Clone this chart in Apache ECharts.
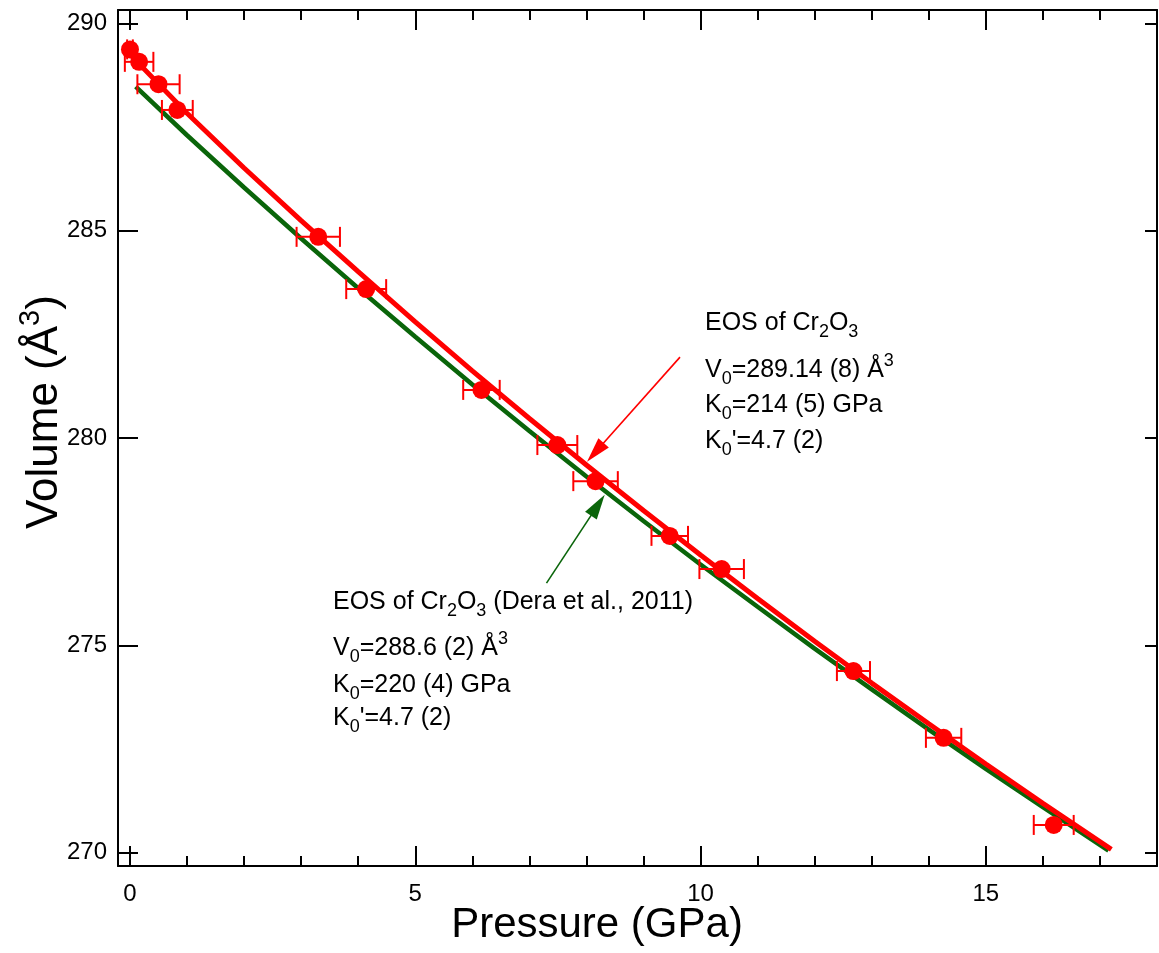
<!DOCTYPE html>
<html><head><meta charset="utf-8">
<script src="https://cdn.jsdelivr.net/npm/echarts@6/dist/echarts.min.js"></script>
<style>html,body{margin:0;padding:0;background:#fff}#c{width:1159px;height:953px}</style>
</head><body><div id="c"></div>
<script>
// ---- data ----
const pressure    = [0.00, 0.16, 0.50, 0.83, 3.30, 4.14, 6.16, 7.49, 8.16, 9.46, 10.37, 12.68, 14.26, 16.19];
const volume      = [289.37, 289.07, 288.53, 287.91, 284.85, 283.59, 281.16, 279.83, 278.96, 277.64, 276.84, 274.38, 272.77, 270.67];
const pressureErr = [0.05, 0.25, 0.37, 0.27, 0.38, 0.35, 0.32, 0.35, 0.39, 0.32, 0.39, 0.29, 0.31, 0.35];

const fitP   = [0, 1, 2, 3, 4, 5, 6, 7, 8, 9, 10, 11, 12, 13, 14, 15, 16, 17.2];
const fitV   = [289.25, 287.83, 286.51, 285.24, 284.01, 282.80, 281.62, 280.47, 279.35, 278.25, 277.18, 276.13, 275.10, 274.09, 273.11, 272.14, 271.19, 270.08];
const deraP  = [0.1, 1, 2, 3, 4, 5, 6, 7, 8, 9, 10, 11, 12, 13, 14, 15, 16, 17.15];
const deraV  = [288.47, 287.30, 286.04, 284.81, 283.61, 282.44, 281.29, 280.17, 279.07, 278.00, 276.95, 275.93, 274.92, 273.94, 272.97, 272.02, 271.10, 270.05];

const xMajorTicks = [0, 5, 10, 15];
const xMinorTicks = [1, 2, 3, 4, 6, 7, 8, 9, 11, 12, 13, 14, 16, 17];
const yMajorTicks = [270, 275, 280, 285, 290];

const redArrow   = [[9.64, 281.95], [8.01, 279.43]];
const greenArrow = [[7.30, 276.50], [8.32, 278.63]];

// ---- chart ----
const FONT = "'Liberation Sans', Arial, Helvetica, sans-serif";
const RED = '#ff0000', GREEN = '#0a650a';
const chart = echarts.init(document.getElementById('c'), null, {renderer: 'canvas'});

function xAx(position, ticks, len, withLabels, lineShow) {
  return {
    type: 'value', position: position, min: -0.21, max: 18,
    axisLine: {show: lineShow, onZero: false, lineStyle: {color: '#000', width: 2}},
    axisTick: {show: true, inside: true, length: len, customValues: ticks, lineStyle: {color: '#000', width: 2}},
    axisLabel: withLabels ? {show: true, customValues: ticks, fontSize: 24, color: '#000', fontFamily: FONT, margin: 16}
                          : {show: false, customValues: ticks},
    splitLine: {show: false}
  };
}
function yAx(position, len, withLabels) {
  return {
    type: 'value', position: position, min: 269.68, max: 290.32,
    axisLine: {show: true, onZero: false, lineStyle: {color: '#000', width: 2}},
    axisTick: {show: true, inside: true, length: len, customValues: yMajorTicks, lineStyle: {color: '#000', width: 2}},
    axisLabel: withLabels ? {show: true, customValues: yMajorTicks, fontSize: 24, color: '#000', fontFamily: FONT, margin: 11}
                          : {show: false, customValues: yMajorTicks},
    splitLine: {show: false}
  };
}

const errData = pressure.map((p, i) => [p, volume[i], pressureErr[i]]);

chart.setOption({
  animation: false,
  backgroundColor: '#fff',
  grid: {left: 118, right: 2, top: 10, bottom: 87, containLabel: false},
  xAxis: [
    xAx('bottom', xMajorTicks, 20, true, true),
    xAx('bottom', xMinorTicks, 10, false, false),
    xAx('top', xMajorTicks, 20, false, true),
    xAx('top', xMinorTicks, 10, false, false)
  ],
  yAxis: [yAx('left', 20, true), yAx('right', 12, false)],
  series: [
    {type: 'line', xAxisIndex: 0, yAxisIndex: 0, data: deraP.map((p, i) => [p, deraV[i]]),
     showSymbol: false, symbol: 'none', lineStyle: {color: GREEN, width: 4.5}, z: 2, silent: true},
    {type: 'line', xAxisIndex: 0, yAxisIndex: 0, data: fitP.map((p, i) => [p, fitV[i]]),
     showSymbol: false, symbol: 'none', lineStyle: {color: RED, width: 5}, z: 3, silent: true},
    {type: 'custom', xAxisIndex: 0, yAxisIndex: 0, data: errData, encode: {x: 0, y: 1}, z: 4, silent: true,
     renderItem: function (params, api) {
       const p = api.value(0), v = api.value(1), e = api.value(2);
       const l = api.coord([p - e, v]), r = api.coord([p + e, v]);
       const h = 10, st = {stroke: RED, lineWidth: 2};
       return {type: 'group', children: [
         {type: 'line', shape: {x1: l[0], y1: l[1], x2: r[0], y2: r[1]}, style: st},
         {type: 'line', shape: {x1: l[0], y1: l[1] - h, x2: l[0], y2: l[1] + h}, style: st},
         {type: 'line', shape: {x1: r[0], y1: r[1] - h, x2: r[0], y2: r[1] + h}, style: st}
       ]};
     }},
    {type: 'scatter', xAxisIndex: 0, yAxisIndex: 0, data: pressure.map((p, i) => [p, volume[i]]),
     symbol: 'circle', symbolSize: 18, itemStyle: {color: RED, opacity: 1}, z: 5, silent: true}
  ]
});

// ---- annotations ----
function rich(size) {
  return {
    n:   {fontSize: size, lineHeight: 36, fontFamily: FONT, fill: '#000'},
    sub: {fontSize: 18, lineHeight: 18, fontFamily: FONT, fill: '#000', verticalAlign: 'bottom'},
    sup: {fontSize: 18, lineHeight: 18, fontFamily: FONT, fill: '#000', verticalAlign: 'top'}
  };
}
function txt(x, y, text) {
  return {type: 'text', x: x, y: y, z: 100, silent: true,
          style: {text: text, align: 'left', verticalAlign: 'middle', fill: '#000', fontFamily: FONT, fontSize: 25, rich: rich(25)}};
}
const block1 = [
  '{n|EOS of Cr}{sub|2}{n|O}{sub|3}',
  '{n|V}{sub|0}{n|=289.14 (8) Å}{sup|3}',
  '{n|K}{sub|0}{n|=214 (5) GPa}',
  "{n|K}{sub|0}{n|'=4.7 (2)}"
];
const block2 = [
  '{n|EOS of Cr}{sub|2}{n|O}{sub|3}{n| (Dera et al., 2011)}',
  '{n|V}{sub|0}{n|=288.6 (2) Å}{sup|3}',
  '{n|K}{sub|0}{n|=220 (4) GPa}',
  "{n|K}{sub|0}{n|'=4.7 (2)}"
];
const b1y = [323.5, 370, 405, 441];
const b2y = [602, 648.5, 685, 718];

function arrow(pts, color) {
  const a = chart.convertToPixel({gridIndex: 0}, pts[0]);
  const b = chart.convertToPixel({gridIndex: 0}, pts[1]);
  const dx = b[0] - a[0], dy = b[1] - a[1], d = Math.hypot(dx, dy);
  const ux = dx / d, uy = dy / d, nx = -uy, ny = ux;
  const L = 25, W = 7;
  const bx = b[0] - ux * L, by = b[1] - uy * L;
  return [
    {type: 'line', z: 90, silent: true, shape: {x1: a[0], y1: a[1], x2: b[0] - ux * L * 0.7, y2: b[1] - uy * L * 0.7},
     style: {stroke: color, lineWidth: 1.6}},
    {type: 'polygon', z: 90, silent: true,
     shape: {points: [[b[0], b[1]], [bx + nx * W, by + ny * W], [bx - nx * W, by - ny * W]]},
     style: {fill: color}}
  ];
}

const graphics = [];
block1.forEach((t, i) => graphics.push(txt(705, b1y[i], t)));
block2.forEach((t, i) => graphics.push(txt(333, b2y[i], t)));
arrow(redArrow, RED).forEach(g => graphics.push(g));
arrow(greenArrow, GREEN).forEach(g => graphics.push(g));
graphics.push({type: 'text', x: 597, y: 925, z: 100, silent: true,
  style: {text: 'Pressure (GPa)', align: 'center', verticalAlign: 'middle', fill: '#000', fontFamily: FONT, fontSize: 42}});
graphics.push({type: 'text', x: 45, y: 412, rotation: Math.PI / 2, z: 100, silent: true,
  style: {text: '{t|Volume (Å}{s|3}{t|)}', align: 'center', verticalAlign: 'middle', fill: '#000', fontFamily: FONT, fontSize: 44,
    rich: {t: {fontSize: 44, lineHeight: 58, fontFamily: FONT, fill: '#000'},
           s: {fontSize: 29, lineHeight: 29, fontFamily: FONT, fill: '#000', verticalAlign: 'top'}}}});
chart.setOption({graphic: graphics});
</script>
</body></html>
